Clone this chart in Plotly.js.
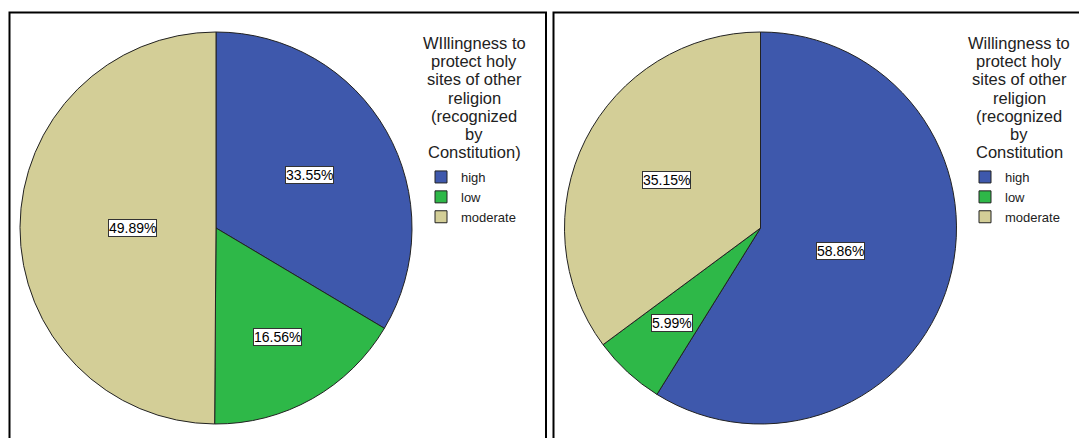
<!DOCTYPE html>
<html>
<head>
<meta charset="utf-8">
<script src="https://cdn.plot.ly/plotly-3.0.1.min.js"></script>
<style>html,body{margin:0;padding:0;background:#fff;}#chart{width:1079px;height:438px;}</style>
</head>
<body>
<div id="chart"></div>
<script>
// ---- data ----
const categories = ["high", "low", "moderate"];
const leftValues = [33.55, 16.56, 49.89];
const rightValues = [58.86, 5.99, 35.15];
const leftLegendTitle = ["WIllingness to", "protect holy", "sites of other", "religion", "(recognized", "by", "Constitution)"];
const rightLegendTitle = ["Willingness to", "protect holy", "sites of other", "religion", "(recognized", "by", "Constitution"];
const colors = ["#3E58AC", "#2EB848", "#D3CE97"];

// ---- layout geometry ----
const W = 1079, H = 438;
const R = 196;
const FONT = "Liberation Sans, Arial, sans-serif";
const pies = [
  {values: leftValues, title: leftLegendTitle, cx: 216, cy: 228, legend: "legend", group: "g1", lx: 474, sx: 435},
  {values: rightValues, title: rightLegendTitle, cx: 760.5, cy: 228, legend: "legend2", group: "g2", lx: 1019, sx: 979}
];

const traces = [];
const annotations = [];
pies.forEach(function (p) {
  traces.push({
    type: "pie",
    labels: categories,
    values: p.values,
    sort: false,
    direction: "clockwise",
    rotation: 0,
    textinfo: "none",
    hoverinfo: "label+percent",
    marker: {colors: colors, line: {color: "#222", width: 1}},
    domain: {x: [(p.cx - R) / W, (p.cx + R) / W], y: [1 - (p.cy + R) / H, 1 - (p.cy - R) / H]},
    legend: p.legend,
    legendgroup: p.group
  });
  const total = p.values.reduce((a, b) => a + b, 0);
  let cum = 0;
  p.values.forEach(function (v) {
    const frac = v / total;
    const theta = frac * 2 * Math.PI;
    const mid = (cum + frac / 2) * 2 * Math.PI;
    cum += frac;
    const half = theta / 2;
    let r = (2 / 3) * R * Math.sin(half) / half;
    r = Math.max(r, 0.425 * R);
    const px = p.cx + r * Math.sin(mid);
    const py = p.cy - r * Math.cos(mid);
    annotations.push({
      xref: "paper", yref: "paper",
      x: px / W, y: 1 - py / H,
      xanchor: "center", yanchor: "middle",
      text: v.toFixed(2) + "%",
      showarrow: false,
      font: {family: FONT, size: 14, color: "#000"},
      bgcolor: "#fff",
      bordercolor: "#333",
      borderwidth: 1,
      borderpad: 0
    });
  });
  // legend title, centred, one line per row
  p.title.forEach(function (line, i) {
    annotations.push({
      xref: "paper", yref: "paper",
      x: p.lx / W, y: 1 - (43 + i * 18.2) / H,
      xanchor: "center", yanchor: "middle",
      text: line, showarrow: false,
      font: {family: FONT, size: 16.5, color: "#222"}
    });
  });
});

function legendCfg(sx) {
  return {
    x: (sx - 14) / W, xanchor: "left",
    y: 1 - 197 / H, yanchor: "middle",
    bgcolor: "rgba(0,0,0,0)",
    font: {family: FONT, size: 13, color: "#222"},
    itemclick: false, itemdoubleclick: false,
    traceorder: "normal",
    tracegroupgap: 0
  };
}

const layout = {
  width: W, height: H,
  margin: {l: 0, r: 0, t: 0, b: 0},
  paper_bgcolor: "#fff",
  showlegend: true,
  legend: legendCfg(pies[0].sx),
  legend2: legendCfg(pies[1].sx),
  annotations: annotations,
  shapes: [
    {type: "rect", xref: "paper", yref: "paper", x0: 9.5 / W, x1: 546 / W, y0: -0.1, y1: 1 - 12.5 / H, line: {color: "#000", width: 2}, layer: "above"},
    {type: "rect", xref: "paper", yref: "paper", x0: 553.5 / W, x1: 1.1, y0: -0.1, y1: 1 - 12.5 / H, line: {color: "#000", width: 2}, layer: "above"}
  ]
};

Plotly.newPlot("chart", traces, layout, {displayModeBar: false, staticPlot: true});
</script>
</body>
</html>
